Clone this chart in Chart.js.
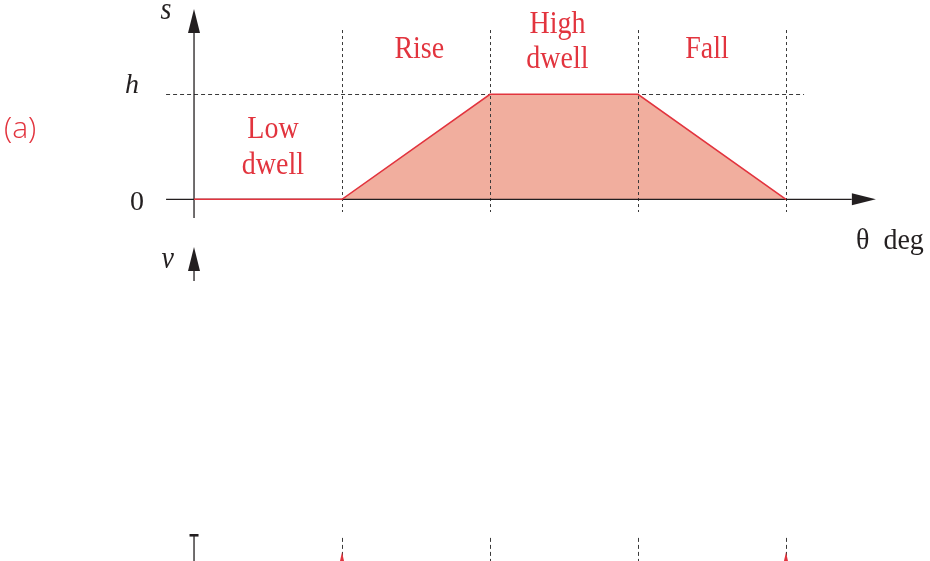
<!DOCTYPE html>
<html>
<head>
<meta charset="utf-8">
<script src="https://cdn.jsdelivr.net/npm/chart.js@4/dist/chart.umd.min.js"></script>
<style>
  html, body { margin: 0; padding: 0; background: #ffffff; }
  #wrap { width: 930px; height: 561px; position: relative; }
</style>
</head>
<body>
<div id="wrap"><canvas id="c"></canvas></div>
<script>
// Cam displacement diagram: dwell - rise - dwell - fall over one revolution
const thetaDeg = [0, 90, 180, 270, 360];
const displacement = [0, 0, 1, 1, 0];          // in units of the lift h
const boundaryDeg = [90, 180, 270, 360];
const segmentLabels = [['Low', 'dwell'], ['Rise'], ['High', 'dwell'], ['Fall']];
const segmentLabelDeg = [48, 137, 221, 312];
const segmentLabelY = [[0.584, 0.241], [1.346], [1.584, 1.25], [1.346]];
const yTickLabels = ['0', 'h'];
const yTickValues = [0, 1];

const RED = '#e2343e';
const FILL = '#f1ae9e';
const INK = '#231f20';
const DASH = '#3a3a3a';

function arrowHead(ctx, tipX, tipY, dir) {
  const len = 24, half = 6;
  ctx.beginPath();
  if (dir === 'up') {
    ctx.moveTo(tipX, tipY);
    ctx.lineTo(tipX - half, tipY + len);
    ctx.lineTo(tipX + half, tipY + len);
  } else {
    ctx.moveTo(tipX, tipY);
    ctx.lineTo(tipX - len, tipY - half);
    ctx.lineTo(tipX - len, tipY + half);
  }
  ctx.closePath();
  ctx.fillStyle = INK;
  ctx.fill();
}

function line(ctx, x1, y1, x2, y2, color, width, dash) {
  ctx.save();
  ctx.beginPath();
  ctx.strokeStyle = color;
  ctx.lineWidth = width;
  ctx.setLineDash(dash || []);
  ctx.moveTo(x1, y1);
  ctx.lineTo(x2, y2);
  ctx.stroke();
  ctx.restore();
}

// text with a slight vertical stretch (tall serif face)
function tallText(ctx, text, x, y, k) {
  ctx.save();
  ctx.translate(x, y);
  ctx.scale(1, k);
  ctx.fillText(text, 0, 0);
  ctx.restore();
}

const diagramPlugin = {
  id: 'camDiagram',
  beforeDatasetsDraw(chart) {
    const ctx = chart.ctx;
    const xs = chart.scales.x, ys = chart.scales.y;
    const X = v => xs.getPixelForValue(v);
    const Y = v => ys.getPixelForValue(v);

    // phase boundaries (upper diagram)
    boundaryDeg.forEach(d => {
      line(ctx, Math.round(X(d)) + 0.5, Y(1.612), Math.round(X(d)) + 0.5, Y(-0.121), DASH, 1, [3, 3]);
    });
    // lift level h
    line(ctx, X(-17), Math.round(Y(1)) + 0.5, X(371), Math.round(Y(1)) + 0.5, DASH, 1, [4, 3]);

    // s axis
    line(ctx, X(0), Y(1.7), X(0), Y(-0.179), INK, 1.3);
    arrowHead(ctx, X(0), Y(1.812), 'up');
    // theta axis
    line(ctx, X(-17), Y(0), X(400), Y(0), INK, 1.3);
    arrowHead(ctx, X(414.7), Y(0), 'right');

    // v axis start (lower diagram)
    line(ctx, X(0), Y(-0.6), X(0), Y(-0.778), INK, 1.3);
    arrowHead(ctx, X(0), Y(-0.454), 'up');

    // lower diagram fragment at bottom edge
    const base = Y(-3.2);
    line(ctx, X(0), base, X(0), chart.height, INK, 1.3);
    line(ctx, X(0) - 4.5, base, X(0) + 4.5, base, INK, 2.6);
    boundaryDeg.forEach(d => {
      line(ctx, Math.round(X(d)) + 0.5, Y(-3.225), Math.round(X(d)) + 0.5, chart.height, DASH, 1, [4, 3]);
    });
    [90, 360].forEach(d => {
      ctx.save();
      ctx.beginPath();
      ctx.moveTo(X(d), Y(-3.36));
      ctx.lineTo(X(d) - 2, chart.height);
      ctx.lineTo(X(d) + 2, chart.height);
      ctx.closePath();
      ctx.fillStyle = RED;
      ctx.fill();
      ctx.restore();
    });
  },
  afterDatasetsDraw(chart) {
    const ctx = chart.ctx;
    const xs = chart.scales.x, ys = chart.scales.y;
    const X = v => xs.getPixelForValue(v);
    const Y = v => ys.getPixelForValue(v);
    ctx.save();
    ctx.textBaseline = 'alphabetic';

    // phase names
    ctx.fillStyle = RED;
    ctx.font = '28px "Liberation Serif", "DejaVu Serif", serif';
    ctx.textAlign = 'center';
    segmentLabels.forEach((lines, i) => {
      lines.forEach((t, j) => tallText(ctx, t, X(segmentLabelDeg[i]), Y(segmentLabelY[i][j]), 1.15));
    });

    // panel tag
    ctx.textAlign = 'left';
    ctx.font = '300 30px "Open Sans", "Liberation Sans", sans-serif';
    ctx.fillText('(a)', 4, Y(0.58));

    // axis labels
    ctx.fillStyle = INK;
    ctx.textAlign = 'center';
    ctx.font = '28px "Liberation Serif", serif';
    ctx.fillText(yTickLabels[0], 137, Y(yTickValues[0]) + 11);
    ctx.font = 'italic 28px "Liberation Serif", serif';
    ctx.fillText(yTickLabels[1], 132, Y(yTickValues[1]) - 1);
    tallText(ctx, 's', X(-17), Y(1.717), 1.1);
    tallText(ctx, 'v', X(-16), Y(-0.655), 1.1);
    ctx.textAlign = 'left';
    ctx.font = '28px "Liberation Serif", serif';
    tallText(ctx, '\u03b8  deg', 856, Y(-0.47), 1.08);
    ctx.restore();
  }
};

const points = thetaDeg.map((t, i) => ({ x: t, y: displacement[i] }));

new Chart(document.getElementById('c'), {
  type: 'line',
  data: {
    datasets: [{
      label: 's',
      data: points,
      borderColor: RED,
      borderWidth: 1.6,
      backgroundColor: FILL,
      fill: 'origin',
      pointRadius: 0,
      tension: 0
    }]
  },
  options: {
    responsive: true,
    maintainAspectRatio: false,
    devicePixelRatio: 1,
    animation: false,
    layout: { padding: 0 },
    plugins: {
      legend: { display: false },
      tooltip: { enabled: false },
      filler: { drawTime: 'beforeDatasetsDraw' }
    },
    scales: {
      x: { type: 'linear', min: -118, max: 447.6, display: false },
      y: { type: 'linear', min: -3.445, max: 1.898, display: false }
    }
  },
  plugins: [diagramPlugin]
});
</script>
</body>
</html>
